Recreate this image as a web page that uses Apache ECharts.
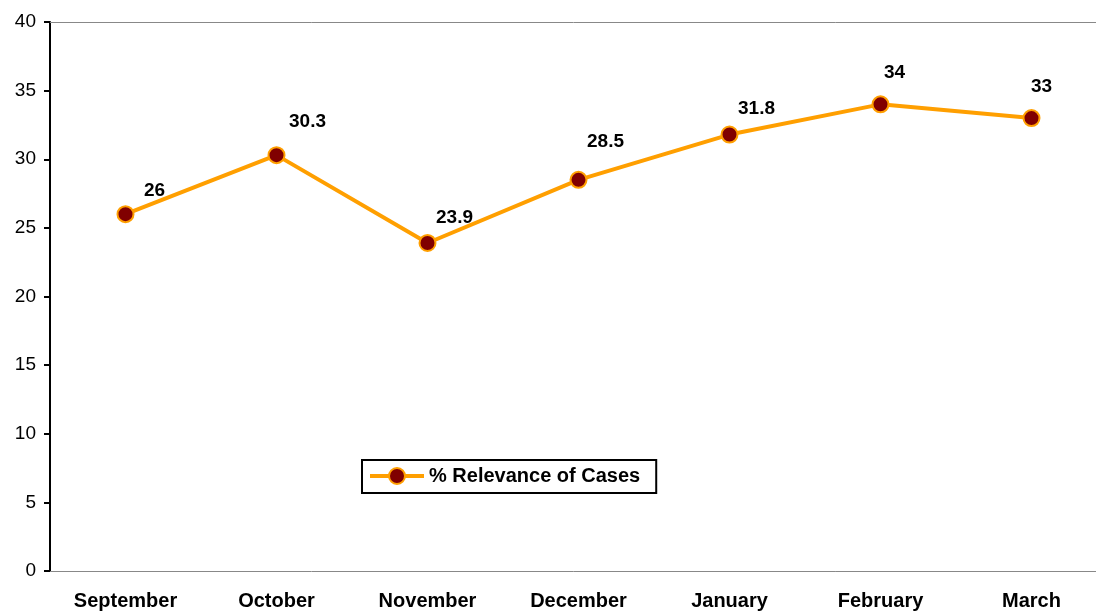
<!DOCTYPE html>
<html>
<head>
<meta charset="utf-8">
<script src="https://cdn.jsdelivr.net/npm/echarts@6/dist/echarts.min.js"></script>
<style>
  html, body { margin: 0; padding: 0; background: #fff; }
  #chart { width: 1096px; height: 611px; }
</style>
</head>
<body>
<div id="chart"></div>
<script>
var months = ['September', 'October', 'November', 'December', 'January', 'February', 'March'];
var relevance = [26, 30.3, 23.9, 28.5, 31.8, 34, 33];
var yTicks = [0, 5, 10, 15, 20, 25, 30, 35, 40];

// where each value label sits relative to its point
var labelShift = [[29, 0], [31, -10], [27, -2], [27, -15], [27, -2], [14, -8], [10, -8]];

var chart = echarts.init(document.getElementById('chart'));
chart.setOption({
  animation: false,
  textStyle: { fontFamily: 'Liberation Sans, Arial, sans-serif' },
  // plot runs past the right edge of the picture, as in the original
  grid: { left: 50, width: 1057, top: 22, bottom: 40, outerBoundsMode: 'none', containLabel: false },
  legend: {
    data: ['% Relevance of Cases'],
    left: 362,
    top: 460,
    padding: [6, 16, 7, 6],
    borderColor: '#000',
    borderWidth: 2,
    borderRadius: 0,
    itemWidth: 54,
    itemHeight: 20,
    lineStyle: { width: 4, color: '#FF9F00' },
    textStyle: { fontSize: 20, fontWeight: 'bold', color: '#000' }
  },
  xAxis: {
    type: 'category',
    data: months,
    axisLine: { lineStyle: { color: '#888', width: 1 } },
    axisTick: { show: false },
    axisLabel: { color: '#000', fontSize: 20, fontWeight: 'bold', margin: 20 }
  },
  yAxis: {
    type: 'value',
    min: yTicks[0],
    max: yTicks[yTicks.length - 1],
    interval: 5,
    axisLine: { show: true, lineStyle: { color: '#000', width: 2 } },
    axisTick: { show: true, length: 6, lineStyle: { color: '#000', width: 2 } },
    axisLabel: { color: '#000', fontSize: 19, margin: 14 },
    splitLine: { show: false }
  },
  series: [{
    name: '% Relevance of Cases',
    type: 'line',
    data: relevance.map(function (v, i) {
      return { value: v, label: { offset: labelShift[i] } };
    }),
    symbol: 'circle',
    symbolSize: 16,
    lineStyle: { color: '#FF9F00', width: 4 },
    itemStyle: { color: '#800000', borderColor: '#FF9F00', borderWidth: 2 },
    label: {
      show: true,
      position: 'top',
      color: '#000',
      fontSize: 19,
      fontWeight: 'bold'
    },
    markLine: {
      silent: true,
      symbol: 'none',
      label: { show: false },
      lineStyle: { color: '#888', type: 'solid', width: 1 },
      data: [{ yAxis: 40 }]
    }
  }]
});
</script>
</body>
</html>
